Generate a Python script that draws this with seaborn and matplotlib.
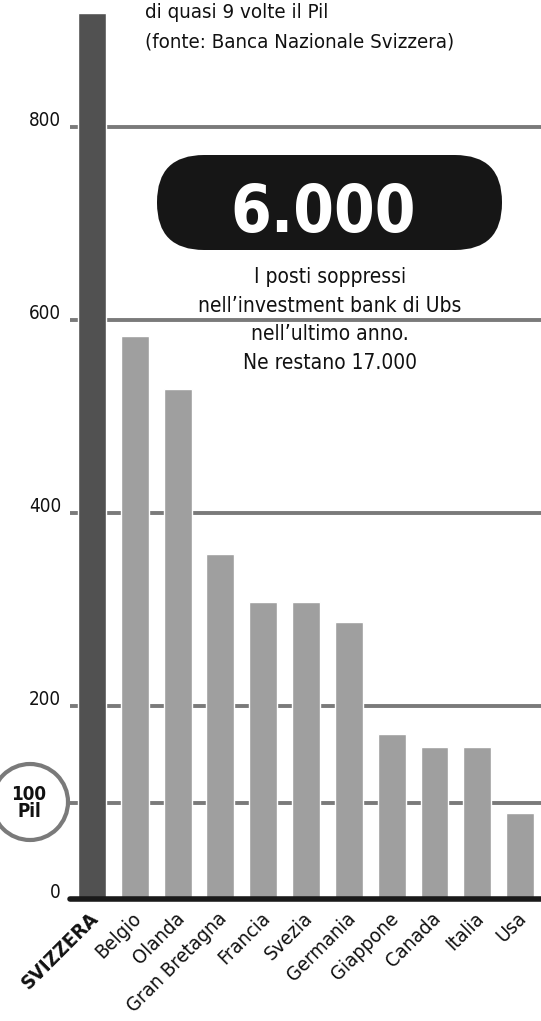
import matplotlib
matplotlib.use("Agg")
import matplotlib.pyplot as plt
import seaborn as sns
import pandas as pd
from matplotlib.patches import FancyBboxPatch, Ellipse
from matplotlib.transforms import Affine2D, ScaledTranslation

countries = ["SVIZZERA", "Belgio", "Olanda", "Gran Bretagna", "Francia", "Svezia",
             "Germania", "Giappone", "Canada", "Italia", "Usa"]
values = [918, 583, 528, 357, 308, 308, 287, 171, 158, 158, 89]
yticks = [0, 200, 400, 600, 800]
gridlines = [100, 200, 400, 600, 800]
header = ["di quasi 9 volte il Pil", "(fonte: Banca Nazionale Svizzera)"]
big_number = "6.000"
note = ["I posti soppressi", "nell\u2019investment bank di Ubs", "nell\u2019ultimo anno.", "Ne restano 17.000"]

sns.set_style("white")
plt.rcParams["font.family"] = ["DejaVu Sans"]
plt.rcParams["font.stretch"] = "condensed"

W, H = 541, 1021
Y0, SCALE = 899, 0.965  # pixel row of zero, pixels per unit
fig = plt.figure(figsize=(W / 100, H / 100), dpi=100)
pix = Affine2D().scale(1, -1).translate(0, H)  # pixel coords, origin top-left

ax = fig.add_axes([70 / W, (H - Y0) / H, (W - 70) / W, Y0 / H])
df = pd.DataFrame({"paese": countries, "valore": values})
palette = ["#515151"] + ["#9f9f9f"] * (len(countries) - 1)
sns.barplot(data=df, x="paese", y="valore", hue="paese", palette=palette,
            width=0.65, legend=False, ax=ax, zorder=3, saturation=1)
ax.set_xlim(-0.514, 10.49)
ax.set_ylim(0, Y0 / SCALE)
for g in gridlines:
    ax.axhline(g, color="#7a7a7a", lw=2.8, zorder=1)
ax.axhline(0, color="#1a1a1a", lw=4, zorder=4, clip_on=False)
for s in ax.spines.values():
    s.set_visible(False)
ax.set_xlabel("")
ax.set_ylabel("")
ax.set_yticks([])
ax.tick_params(axis="x", length=0, pad=7)
ax.set_xticks(range(len(countries)))
ax.set_xticklabels(countries, rotation=45, ha="right", va="top",
                   rotation_mode="anchor", fontsize=14.5, color="#111111")
shift = ScaledTranslation(-3 / 100, 0, fig.dpi_scale_trans)
for lbl in ax.get_xticklabels():
    lbl.set_transform(lbl.get_transform() + shift)
    if lbl.get_text() == "SVIZZERA":
        lbl.set_fontweight("bold")

for t in yticks:
    ypix = Y0 - t * SCALE
    fig.text(61, ypix - 1.5, str(t), transform=pix, ha="right", va="baseline",
             fontsize=13.5, color="#111111")

for i, line in enumerate(header):
    fig.text(145, 18 + i * 29, line, transform=pix, ha="left", va="baseline",
             fontsize=14.7, color="#111111")

pill = FancyBboxPatch((157, 155), 345, 95, boxstyle="round,pad=0,rounding_size=47",
                      transform=pix, facecolor="#161616", edgecolor="none")
fig.add_artist(pill)
fig.text(323, 232, big_number, transform=pix, ha="center", va="baseline",
         fontsize=47, fontweight="bold", color="white")
for i, line in enumerate(note):
    fig.text(330, 283 + i * 28.5, line, transform=pix, ha="center", va="baseline",
             fontsize=15, color="#111111")

circ = Ellipse((30, 802), 76, 76, transform=pix, facecolor="white",
               edgecolor="#7a7a7a", lw=3)
fig.add_artist(circ)
fig.text(29, 803, "100\nPil", transform=pix, ha="center", va="center",
         fontsize=13.5, fontweight="bold", color="#111111", linespacing=0.9)

fig.savefig("out.png", dpi=100)
